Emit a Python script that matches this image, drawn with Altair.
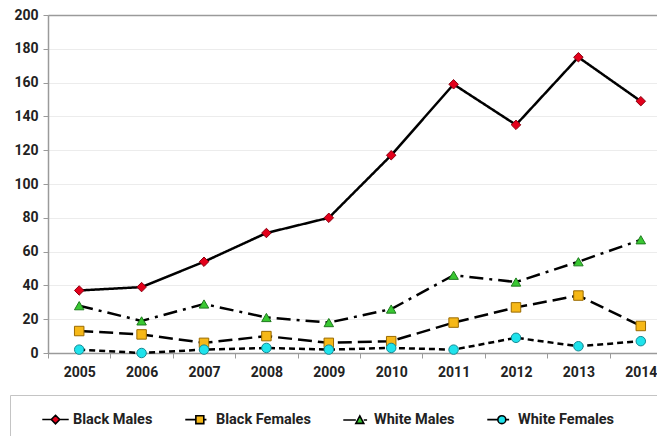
import altair as alt
import pandas as pd

years = [str(y) for y in range(2005, 2015)]
series = ["Black Males", "Black Females", "White Males", "White Females"]
black_males = [37, 39, 54, 71, 80, 117, 159, 135, 175, 149]
black_females = [13, 11, 6, 10, 6, 7, 18, 27, 34, 16]
white_males = [28, 19, 29, 21, 18, 26, 46, 42, 54, 67]
white_females = [2, 0, 2, 3, 2, 3, 2, 9, 4, 7]
y_ticks = list(range(0, 201, 20))

values = {
    "Black Males": black_males,
    "Black Females": black_females,
    "White Males": white_males,
    "White Females": white_females,
}
rows = []
for s in series:
    for yr, v in zip(years, values[s]):
        rows.append({"year": yr, "value": v, "series": s, "label": s})
df = pd.DataFrame(rows)

fills = ["#e3001b", "#f6b817", "#39c832", "#1fe3ec"]
borders = ["#8a0010", "#9a6a00", "#1d7a1d", "#168a94"]
dashes = [[1, 0], [14, 6], [14, 6, 3, 6], [6, 4]]
shapes = ["diamond", "square", "triangle-up", "circle"]
legend_paths = [
    "M-1,0H-0.32M0.32,0H1M0,-0.32L0.32,0L0,0.32L-0.32,0Z",
    "M-1,0H-0.2M0.4,0H0.6M-0.2,-0.3H0.4V0.3H-0.2Z",
    "M-1,0H-0.05M0.55,0H0.8M0.25,-0.3L0.55,0.26H-0.05Z",
    "M-1,0H-0.2M0.4,0H0.65M-0.2,0A0.3,0.3 0 1,0 0.4,0A0.3,0.3 0 1,0 -0.2,0Z",
]
# blank trailing legend slot so the legend frame runs on to the right edge
legend_domain = series + [" "]

FONT = "Roboto"

x_enc = alt.X(
    "year:O",
    scale=alt.Scale(type="band", range=[0, 624], paddingInner=0, paddingOuter=0),
    axis=alt.Axis(
        title=None, labelAngle=0, tickBand="extent", grid=False,
        domainColor="#9a9a9a", tickColor="#9a9a9a", tickSize=5, domainWidth=1.5,
        labelFont=FONT, labelFontSize=14, labelFontWeight="bold", labelColor="#222",
        labelPadding=7,
    ),
)
y_enc = alt.Y(
    "value:Q",
    scale=alt.Scale(domain=[0, 200], nice=False),
    axis=alt.Axis(
        title=None, values=y_ticks, grid=True,
        gridColor={"condition": {"test": "datum.value == 200", "value": "#9a9a9a"}, "value": "#ececec"},
        gridWidth={"condition": {"test": "datum.value == 200", "value": 1.5}, "value": 1},
        domainColor="#9a9a9a", tickColor="#9a9a9a", tickSize=5, domainWidth=1.5,
        labelFont=FONT, labelFontSize=14, labelFontWeight="bold", labelColor="#222",
        labelPadding=5,
    ),
)

lines = alt.Chart(df).mark_line(color="black", strokeWidth=2.5).encode(
    x=x_enc,
    y=y_enc,
    strokeDash=alt.StrokeDash("series:N", scale=alt.Scale(domain=series, range=dashes), legend=None),
)

points = alt.Chart(df).mark_point(filled=True, size=90, strokeWidth=1, opacity=1).encode(
    x=x_enc,
    y=y_enc,
    shape=alt.Shape("series:N", scale=alt.Scale(domain=series, range=shapes), legend=None),
    fill=alt.Fill("series:N", scale=alt.Scale(domain=series, range=fills), legend=None),
    stroke=alt.Stroke("series:N", scale=alt.Scale(domain=series, range=borders), legend=None),
)

leg = alt.Legend(
    orient="none", legendX=-38, legendY=380, direction="horizontal",
    title=" ", titleOrient="left", titlePadding=21, titleFontSize=10,
    symbolSize=700, symbolOpacity=1, symbolStrokeWidth=1.6,
    labelFont=FONT, labelFontSize=14.5, labelFontWeight="bold", labelColor="#222",
    labelOffset=3, columnPadding=29, padding=10, strokeColor="#c4c4c4",
    labelLimit=400,
)

legend_layer = alt.Chart(df).mark_point(filled=False, strokeWidth=1.6, opacity=0, size=10).encode(
    x=x_enc,
    y=y_enc,
    shape=alt.Shape("label:N", scale=alt.Scale(domain=legend_domain, range=legend_paths + ["M0,0"]), legend=leg),
    fill=alt.Fill("label:N", scale=alt.Scale(domain=legend_domain, range=fills + ["transparent"]), legend=leg),
    stroke=alt.Stroke("label:N", scale=alt.Scale(domain=legend_domain, range=["black"] * 4 + ["transparent"]), legend=leg),
)

chart = (
    alt.layer(lines, points, legend_layer)
    .resolve_scale(shape="independent", fill="independent", stroke="independent")
    .properties(
        width=609, height=338,
        autosize=alt.AutoSizeParams(type="none"),
        padding={"left": 40, "top": 7, "right": 0, "bottom": 83},
    )
    .configure_view(stroke=None)
    .configure(background="white")
)

chart.save("out.html", embed_options={"renderer": "svg", "actions": False})
